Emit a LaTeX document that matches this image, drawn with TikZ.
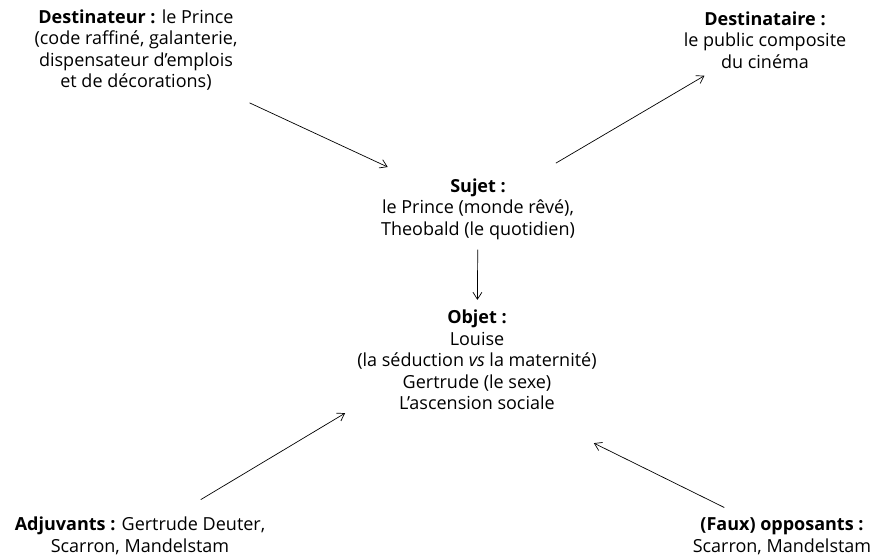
\documentclass[tikz,border=0pt]{standalone}
\usepackage{fontspec}
\setmainfont{Open Sans}
\usetikzlibrary{arrows.meta}
\begin{document}
\begin{tikzpicture}[x=1pt,y=-1pt,
    actant/.style={align=center,font=\fontsize{18}{21.5}\selectfont,inner sep=2pt},
    fleche/.style={-{Straight Barb[length=7pt,width=9pt]},line width=0.7pt}]
  \useasboundingbox (0,0) rectangle (878,558);

  % les six actants
  \node[actant] (dest) at (136,50) {\textbf{Destinateur :} le Prince\\(code raffiné, galanterie,\\dispensateur d’emplois\\et de décorations)};
  \node[actant] (desta) at (765,40) {\textbf{Destinataire :}\\le public composite\\du cinéma};
  \node[actant] (sujet) at (478,209) {\textbf{Sujet :}\\le Prince (monde rêvé),\\Theobald (le quotidien)};
  \node[actant] (objet) at (477,360) {\textbf{Objet :}\\Louise\\(la séduction \textit{vs} la maternité)\\Gertrude (le sexe)\\L’ascension sociale};
  \node[actant] (adj) at (140,536) {\textbf{Adjuvants :} Gertrude Deuter,\\Scarron, Mandelstam};
  \node[actant] (opp) at (782,536) {\textbf{(Faux) opposants :}\\Scarron, Mandelstam};

  % les flèches
  \draw[fleche,shorten <=24pt,shorten >=22pt] (dest) -- (sujet);
  \draw[fleche,shorten <=26pt,shorten >=10pt] (sujet) -- (desta);
  \draw[fleche,shorten <=8pt,shorten >=8pt] (sujet) -- (objet);
  \draw[fleche,shorten <=30pt] (adj) -- ([xshift=-10pt,yshift=-1pt]objet.south west);
  \draw[fleche,shorten <=18pt] (opp) -- ([xshift=-5pt,yshift=-31pt]objet.south east);
\end{tikzpicture}
\end{document}
